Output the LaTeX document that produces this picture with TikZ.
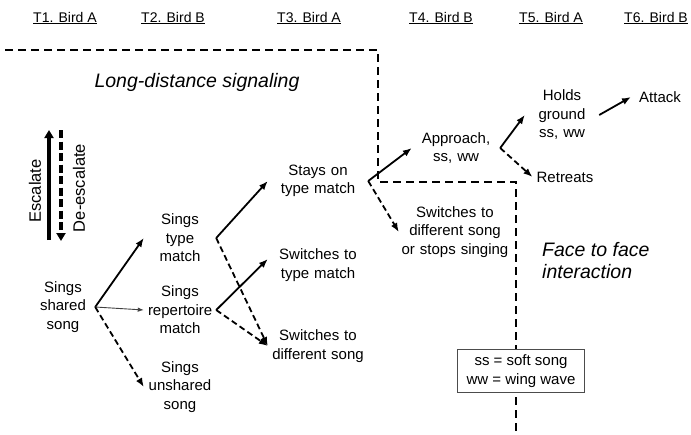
\documentclass[tikz,border=0pt]{standalone}
\usepackage{fontspec}
\setmainfont{Liberation Sans}
\usetikzlibrary{arrows.meta}

\begin{document}
\begin{tikzpicture}[x = 1pt, y = -1pt,
  every node/.style = {font = \fontsize{15}{18.5}\selectfont, align = center, inner sep = 4pt},
  head/.style = {font = \fontsize{14}{18}\selectfont},
  region/.style = {font = \fontsize{19.5}{22}\selectfont\itshape, inner sep = 0pt},
  side/.style = {font = \fontsize{16.5}{18}\selectfont, rotate = 90, inner sep = 0pt},
  yes/.style = {line width = 1.8pt, -{Latex[length = 9pt, width = 7pt]}},
  no/.style = {yes, dash pattern = on 6pt off 3.5pt},
  weak/.style = {line width = 0.9pt, black!75, -{Latex[length = 6pt, width = 4.5pt]}},
  border/.style = {line width = 1.5pt, dash pattern = on 8pt off 5pt}]
\useasboundingbox (0,0) rectangle (691,434);

\draw [border] (5,50) -- (378,50) -- (378,182) -- (516,182) -- (516,434);

\node [head] at (65,18) {\underline{T1. Bird A}};
\node [head] at (173,18) {\underline{T2. Bird B}};
\node [head] at (309,18) {\underline{T3. Bird A}};
\node [head] at (441,18) {\underline{T4. Bird B}};
\node [head] at (551,18) {\underline{T5. Bird A}};
\node [head] at (656,18) {\underline{T6. Bird B}};

\node [region] at (197,82) {Long-distance signaling};
\node [region, anchor = west, align = left] at (542,261) {Face to face\\interaction};

\draw [line width = 3.5pt, -{Triangle[length = 8pt, width = 9pt]}] (49,240) -- (49,130);
\draw [line width = 3.5pt, dash pattern = on 8pt off 3.5pt, -{Triangle[length = 8pt, width = 9pt]}] (61,130) -- (61,241);
\node [side] at (35,191) {Escalate};
\node [side] at (79,188) {De-escalate};

\node [text width = 56pt] (shared) at (63,307) {Sings\\shared\\song};
\node [text width = 64pt] (type) at (180,238) {Sings\\type\\match};
\node [text width = 64pt] (rep) at (180,310) {Sings\\repertoire\\match};
\node [text width = 64pt] (unshared) at (180,387) {Sings\\unshared\\song};
\node [text width = 92pt] (stays) at (318,181) {Stays on\\type match};
\node [text width = 92pt] (swtype) at (318,265) {Switches to\\type match};
\node [text width = 92pt] (swdiff) at (318,346) {Switches to\\different song};
\node [text width = 80pt] (approach) at (456,148) {Approach,\\ss, ww};
\node [text width = 112pt] (stopsing) at (455,232) {Switches to\\different song\\or stops singing};
\node [text width = 66pt] (holds) at (562,115) {Holds\\ground\\ss, ww};
\node (retreats) at (565,177) {Retreats};
\node [inner xsep = 8pt] (attack) at (660,97) {Attack};

\node [draw = black!70, line width = 0.6pt, fill = white, inner xsep = 9pt, inner ysep = 5pt] (legend) at (521,371) {ss = soft song\\ww = wing wave};

\draw [yes] (shared.east) -- (type.west);
\draw [weak] (shared.east) -- (rep.west);
\draw [no] (shared.east) -- (unshared.west);
\draw [yes] (type.east) -- (stays.west);
\draw [no] (type.east) -- (swdiff.west);
\draw [yes] (rep.east) -- ([yshift = 6pt]swtype.west);
\draw [no] (rep.east) -- (swdiff.west);
\draw [yes] (stays.east) -- (approach.west);
\draw [no] (stays.east) -- ([xshift = 4pt]stopsing.west);
\draw [yes] (approach.east) -- (holds.west);
\draw [no] (approach.east) -- (retreats.west);
\draw [yes] (holds.east) -- (attack.west);
\end{tikzpicture}
\end{document}
